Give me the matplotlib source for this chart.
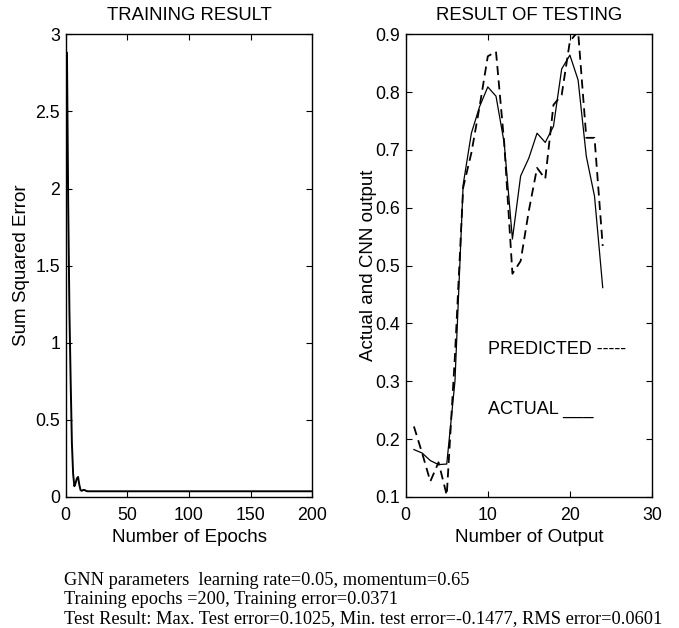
import matplotlib
matplotlib.use("Agg")
import matplotlib.pyplot as plt

# training curve (sum squared error per epoch)
epochs = [1, 2, 3, 4, 5, 6, 7, 8, 9, 10, 11, 12, 13, 14, 15, 16, 17, 18, 200]
sse = [2.88, 1.9, 1.2, 0.75, 0.35, 0.15, 0.07, 0.09, 0.12, 0.13, 0.08,
       0.045, 0.04, 0.045, 0.046, 0.042, 0.038, 0.0371, 0.0371]

# testing result
outputs = list(range(1, 25))
actual = [0.182, 0.176, 0.163, 0.156, 0.157, 0.30, 0.640, 0.729, 0.775, 0.809,
          0.793, 0.712, 0.546, 0.655, 0.686, 0.729, 0.713, 0.741, 0.840, 0.864,
          0.821, 0.689, 0.620, 0.462]
predicted = [0.222, 0.176, 0.127, 0.160, 0.103, 0.345, 0.635, 0.695, 0.775, 0.862,
             0.870, 0.712, 0.486, 0.508, 0.595, 0.669, 0.650, 0.778, 0.795, 0.888,
             0.905, 0.721, 0.721, 0.534]

notes = ["GNN parameters  learning rate=0.05, momentum=0.65",
         "Training epochs =200, Training error=0.0371",
         "Test Result: Max. Test error=0.1025, Min. test error=-0.1477, RMS error=0.0601"]

plt.rcParams["font.family"] = ["Liberation Sans", "DejaVu Sans"]
plt.rcParams["font.size"] = 13

#_____________________________________________________________________________
def style_axes(ax):
    ax.tick_params(direction="in", top=True, right=True, length=4, width=0.8,
                   labelsize=12.8, pad=4)
    ax.tick_params(axis="x", pad=7)
    for s in ax.spines.values():
        s.set_linewidth(1.0)

fig = plt.figure(figsize=(6.79, 6.28), dpi=100)

ax1 = fig.add_axes([0.0968, 0.2086, 0.3632, 0.7368])
ax1.plot(epochs, sse, "-", color="black", lw=1.4)
ax1.set_xlim(0, 200)
ax1.set_ylim(0, 3)
ax1.set_xticks([0, 50, 100, 150, 200])
ax1.set_yticks([0, 0.5, 1, 1.5, 2, 2.5, 3])
ax1.set_yticklabels(["0", "0.5", "1", "1.5", "2", "2.5", "3"])
ax1.set_xlabel("Number of Epochs", fontsize=13.5, labelpad=4)
ax1.set_ylabel("Sum Squared Error", fontsize=13.5, labelpad=4)
ax1.set_title("TRAINING RESULT", fontsize=13.3, pad=10)
style_axes(ax1)

ax2 = fig.add_axes([0.5975, 0.2086, 0.3627, 0.7368])
ax2.plot(outputs, actual, "-", color="black", lw=0.9)
ax2.plot(outputs, predicted, "--", color="black", lw=1.3, dashes=(5, 3))
ax2.set_xlim(0, 30)
ax2.set_ylim(0.1, 0.9)
ax2.set_xticks([0, 10, 20, 30])
ax2.set_yticks([0.1, 0.2, 0.3, 0.4, 0.5, 0.6, 0.7, 0.8, 0.9])
ax2.set_yticklabels(["0.1", "0.2", "0.3", "0.4", "0.5", "0.6", "0.7", "0.8", "0.9"])
ax2.set_xlabel("Number of Output", fontsize=13.5, labelpad=4)
ax2.set_ylabel("Actual and CNN output", fontsize=13.5, labelpad=-1)
ax2.set_title("RESULT OF TESTING", fontsize=13.3, pad=10)
ax2.text(10.0, 0.355, "PREDICTED -----", fontsize=13, va="center")
ax2.text(10.0, 0.252, "ACTUAL ___", fontsize=13, va="center")
style_axes(ax2)

for i, s in enumerate(notes):
    fig.text(64 / 679, 1 - (585 + 19 * i) / 628, s, fontsize=13.2,
             family=["Liberation Serif", "DejaVu Serif"], va="baseline")

fig.savefig("out.png", dpi=100)
plt.close()
